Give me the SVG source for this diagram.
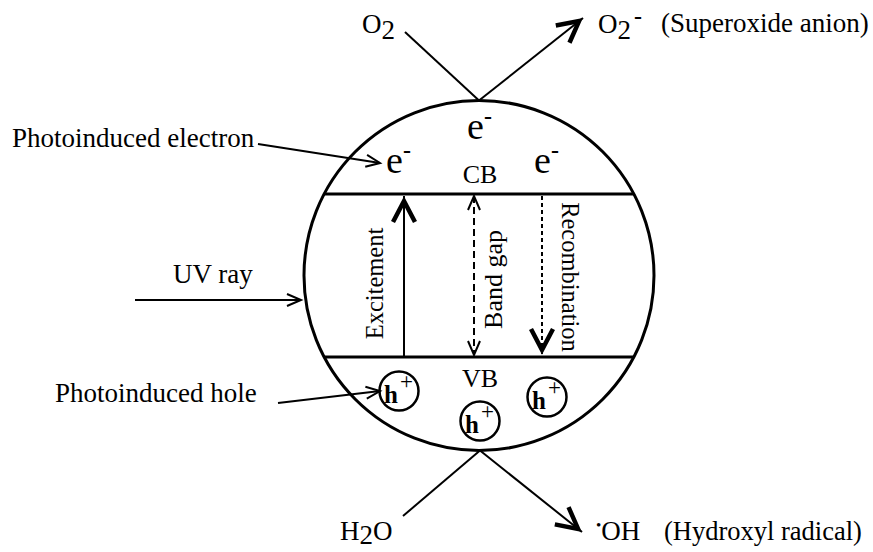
<svg xmlns="http://www.w3.org/2000/svg" width="873" height="552" viewBox="0 0 873 552">
<style>
text{font-family:"Liberation Serif","Times New Roman",serif;fill:#000}
.lbl{font-size:27px}
.band{font-size:26px}
.el{font-size:38px}
.bar{font-size:24px;font-weight:bold}
.h{font-size:25px;font-weight:bold}
.plus{font-size:23px}
.rot{font-size:24.5px}
.ln{stroke:#000;stroke-width:2;fill:none}
.thick{stroke:#000;stroke-width:3;fill:none}
.hole{stroke:#000;stroke-width:2.5;fill:#fff}
</style>
<defs>
<marker id="open" viewBox="0 0 16 14" refX="15" refY="7" markerWidth="16" markerHeight="14" markerUnits="userSpaceOnUse" orient="auto" overflow="visible">
<path d="M1,1 L15,7 L1,13" fill="none" stroke="#000" stroke-width="2"/>
</marker>
<marker id="openrev" viewBox="0 0 16 14" refX="1" refY="7" markerWidth="16" markerHeight="14" markerUnits="userSpaceOnUse" orient="auto" overflow="visible">
<path d="M15,1 L1,7 L15,13" fill="none" stroke="#000" stroke-width="2"/>
</marker>
<marker id="bold" viewBox="0 0 30 26" refX="28" refY="13" markerWidth="30" markerHeight="26" markerUnits="userSpaceOnUse" orient="auto" overflow="visible">
<path d="M2,2 L23,13 L2,24" fill="none" stroke="#000" stroke-width="4.5" stroke-linejoin="miter"/>
</marker>
</defs>
<rect width="873" height="552" fill="#fff"/>

<g id="particle">
<circle cx="479" cy="275.5" r="175" class="thick"/>
<line x1="324" y1="194" x2="634" y2="194" class="thick"/>
<line x1="324" y1="357" x2="634" y2="357" class="thick"/>
<text class="band" x="480" y="183" text-anchor="middle">CB</text>
<text class="band" x="480" y="387" text-anchor="middle">VB</text>
</g>

<g id="electrons">
<text class="el" x="467" y="139">e<tspan class="bar" dy="-15">-</tspan></text>
<text class="el" x="386" y="173">e<tspan class="bar" dy="-15">-</tspan></text>
<text class="el" x="534" y="173">e<tspan class="bar" dy="-15">-</tspan></text>
</g>

<g id="holes">
<g id="hole1"><circle cx="399" cy="391" r="19.5" class="hole"/><text class="h" x="384" y="403">h</text><text class="plus" x="400" y="389">+</text></g>
<g id="hole2"><circle cx="480" cy="421" r="19.5" class="hole"/><text class="h" x="465" y="433">h</text><text class="plus" x="481" y="419">+</text></g>
<g id="hole3"><circle cx="547" cy="397" r="19.5" class="hole"/><text class="h" x="532" y="409">h</text><text class="plus" x="548" y="395">+</text></g>
</g>

<g id="label-electron"><text class="lbl" x="12" y="147">Photoinduced electron</text></g>
<g id="label-uv"><text class="lbl" x="173" y="283">UV ray</text></g>
<g id="label-hole"><text class="lbl" x="55" y="402">Photoinduced hole</text></g>

<g id="o2"><text class="lbl" x="362" y="33">O<tspan dy="6">2</tspan></text></g>
<g id="o2-minus"><text class="lbl" x="598" y="33">O<tspan dy="6">2</tspan><tspan class="bar" dx="3" dy="-15">-</tspan></text>
<text class="lbl" x="661" y="32">(Superoxide anion)</text></g>
<g id="h2o"><text class="lbl" x="340" y="540">H<tspan dy="4">2</tspan><tspan dy="-4">O</tspan></text></g>
<g id="oh"><text class="lbl" x="596" y="540"><tspan font-size="15" dy="-10">•</tspan><tspan dy="10">OH</tspan></text>
<text class="lbl" x="664" y="540" style="font-size:26.5px">(Hydroxyl radical)</text></g>

<g id="connector-labels">
<text class="rot" transform="translate(383,283.5) rotate(-90)" text-anchor="middle">Excitement</text>
<text class="rot" style="font-size:26px" transform="translate(502,279.5) rotate(-90)" text-anchor="middle">Band gap</text>
<text class="rot" transform="translate(562,277) rotate(90)" text-anchor="middle">Recombination</text>
</g>

<g id="connectors">
<line x1="258" y1="144" x2="380" y2="163" class="ln" marker-end="url(#open)"/>
<line x1="135" y1="300" x2="301" y2="300" class="ln" marker-end="url(#open)"/>
<line x1="278" y1="403" x2="380" y2="391" class="ln" marker-end="url(#open)"/>
<line x1="405" y1="32" x2="479" y2="100.5" class="ln"/>
<line x1="479" y1="100.5" x2="583" y2="18" class="ln" marker-end="url(#bold)"/>
<line x1="403" y1="516" x2="480" y2="450.5" class="ln"/>
<line x1="480" y1="450.5" x2="582" y2="532" class="ln" marker-end="url(#bold)"/>
<line x1="404" y1="357" x2="404" y2="196" class="ln" marker-end="url(#bold)"/>
<line x1="474" y1="196" x2="474" y2="355" class="ln" stroke-dasharray="7,4" marker-start="url(#openrev)" marker-end="url(#open)"/>
<line x1="542" y1="196" x2="542" y2="355" class="ln" stroke-width="1.5" stroke-dasharray="4,3" marker-end="url(#bold)"/>
</g>
</svg>
